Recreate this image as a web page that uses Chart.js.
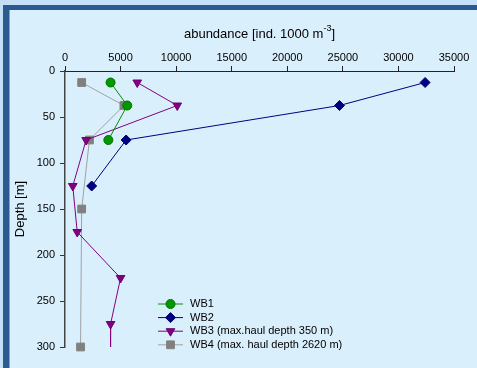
<!DOCTYPE html>
<html>
<head>
<meta charset="utf-8">
<script src="https://cdn.jsdelivr.net/npm/chart.js@4.4.1/dist/chart.umd.min.js"></script>
<style>
  html, body { margin: 0; padding: 0; }
  body { width: 477px; height: 368px; background: #c5dff7; position: relative; overflow: hidden; }
  #frame { position: absolute; left: 3px; top: 5px; width: 474px; height: 363px; box-sizing: border-box;
           border-top: 5px solid #2b5a91; border-left: 6px solid #2b5a91; background: #daeffc; }
  #frame:before { content: ""; position: absolute; left: 0; top: 0; width: 1px; height: 100%; background: #7aa6d6; }
  #c { position: absolute; left: 0; top: 0; }
</style>
</head>
<body>
<div id="frame"></div>
<canvas id="c" width="477" height="368"></canvas>
<script>
// ---- data ----
const labels = ["WB1", "WB2", "WB3 (max.haul depth 350 m)", "WB4 (max. haul depth 2620 m)"];
const depthWB1 = [12.5, 37.5, 75];
const valWB1   = [4100, 5600, 3900];
const depthWB2 = [12.5, 37.5, 75, 125];
const valWB2   = [32400, 24700, 5500, 2400];
const depthWB3 = [12.5, 37.5, 75, 125, 175, 225, 275, 325];
const valWB3   = [6500, 10100, 1900, 700, 1100, 5000, 4100, 4100];
const depthWB4 = [12.5, 37.5, 75, 150, 300];
const valWB4   = [1500, 5300, 2200, 1500, 1400];
const xTicks = [0, 5000, 10000, 15000, 20000, 25000, 30000, 35000];
const yTicks = [0, 50, 100, 150, 200, 250, 300];

const FONT = "'Liberation Sans', Arial, sans-serif";
function pts(xs, ys) { return xs.map((v, i) => ({ x: v, y: ys[i] })); }

const titlePlugin = {
  id: 'axisTitles',
  afterDraw(chart) {
    const ctx = chart.ctx, ca = chart.chartArea;
    ctx.save();
    ctx.fillStyle = '#000';
    ctx.textBaseline = 'middle';
    // top title with superscript
    const a = 'abundance [ind. 1000 m', s = '-3', b = ']';
    ctx.font = '13px ' + FONT;
    const wa = ctx.measureText(a).width, wb = ctx.measureText(b).width;
    ctx.font = '9px ' + FONT;
    const ws = ctx.measureText(s).width;
    const total = wa + ws + wb;
    let x = (ca.left + ca.right) / 2 - total / 2;
    const y = 34;
    ctx.textAlign = 'left';
    ctx.font = '13px ' + FONT;
    ctx.fillText(a, x, y);
    ctx.font = '9px ' + FONT;
    ctx.fillText(s, x + wa, y - 5);
    ctx.font = '13px ' + FONT;
    ctx.fillText(b, x + wa + ws, y);
    // y title
    ctx.translate(20, (ca.top + ca.bottom) / 2);
    ctx.rotate(-Math.PI / 2);
    ctx.textAlign = 'center';
    ctx.fillText('Depth [m]', 0, 0);
    ctx.restore();
  }
};

const legendPlugin = {
  id: 'customLegend',
  afterDraw(chart) {
    const ctx = chart.ctx;
    const x0 = 158, x1 = 183, xm = 170.5, xt = 190, y0 = 304, dy = 13.6;
    ctx.save();
    chart.data.datasets.forEach((ds, i) => {
      const y = y0 + i * dy;
      ctx.strokeStyle = ds.borderColor;
      ctx.lineWidth = 1;
      ctx.beginPath(); ctx.moveTo(x0, y); ctx.lineTo(x1, y); ctx.stroke();
      ctx.fillStyle = ds.pointBackgroundColor;
      ctx.strokeStyle = ds.pointBorderColor;
      Chart.helpers.drawPoint(ctx, {
        pointStyle: ds.pointStyle, radius: ds.pointRadius, rotation: ds.pointRotation || 0,
        borderWidth: 1
      }, xm, y);
      ctx.fillStyle = '#000';
      ctx.font = '11px ' + FONT;
      ctx.textAlign = 'left';
      ctx.textBaseline = 'middle';
      ctx.fillText(ds.label, xt, y);
    });
    ctx.restore();
  }
};

new Chart(document.getElementById('c'), {
  type: 'line',
  data: {
    datasets: [
      { label: labels[0], data: pts(valWB1, depthWB1), borderColor: '#009000', borderWidth: 1,
        pointStyle: 'circle', pointRadius: 4.5, pointBackgroundColor: '#009a00', pointBorderColor: '#007000' },
      { label: labels[1], data: pts(valWB2, depthWB2), borderColor: '#000080', borderWidth: 1,
        pointStyle: 'rectRot', pointRadius: 5, pointBackgroundColor: '#000080', pointBorderColor: '#000070' },
      { label: labels[2], data: pts(valWB3, depthWB3), borderColor: '#800080', borderWidth: 1,
        pointStyle: 'triangle', pointRotation: 180, pointRadius: 5, pointBackgroundColor: '#800080', pointBorderColor: '#700070' },
      { label: labels[3], data: pts(valWB4, depthWB4), borderColor: '#a0a0a0', borderWidth: 1, clip: false,
        pointStyle: 'rect', pointRadius: 5.5, pointBackgroundColor: '#808080', pointBorderColor: '#808080' }
    ]
  },
  options: {
    responsive: false,
    animation: false,
    devicePixelRatio: 1,
    layout: { padding: { left: 0, top: 0, right: 23, bottom: 21 } },
    plugins: { legend: { display: false }, tooltip: { enabled: false } },
    elements: { line: { tension: 0, fill: false } },
    scales: {
      x: {
        type: 'linear', position: 'top', min: 0, max: 35000,
        afterFit(scale) { scale.height = 71; },
        afterBuildTicks(scale) { scale.ticks = xTicks.map(v => ({ value: v })); },
        ticks: { color: '#000', font: { size: 11, family: FONT }, padding: 1, maxRotation: 0,
                 callback: v => String(v) },
        grid: { drawOnChartArea: false, tickLength: 5, color: '#222', lineWidth: 1 },
        border: { color: '#222', width: 1 }
      },
      y: {
        type: 'linear', position: 'left', reverse: true, min: 0, max: 300,
        afterFit(scale) { scale.width = 65; },
        afterBuildTicks(scale) { scale.ticks = yTicks.map(v => ({ value: v })); },
        ticks: { color: '#000', font: { size: 11, family: FONT }, padding: 5,
                 callback: v => String(v) },
        grid: { drawOnChartArea: false, tickLength: 5, color: '#333', lineWidth: 1 },
        border: { color: '#444', width: 1.5 }
      }
    }
  },
  plugins: [titlePlugin, legendPlugin]
});
</script>
</body>
</html>
